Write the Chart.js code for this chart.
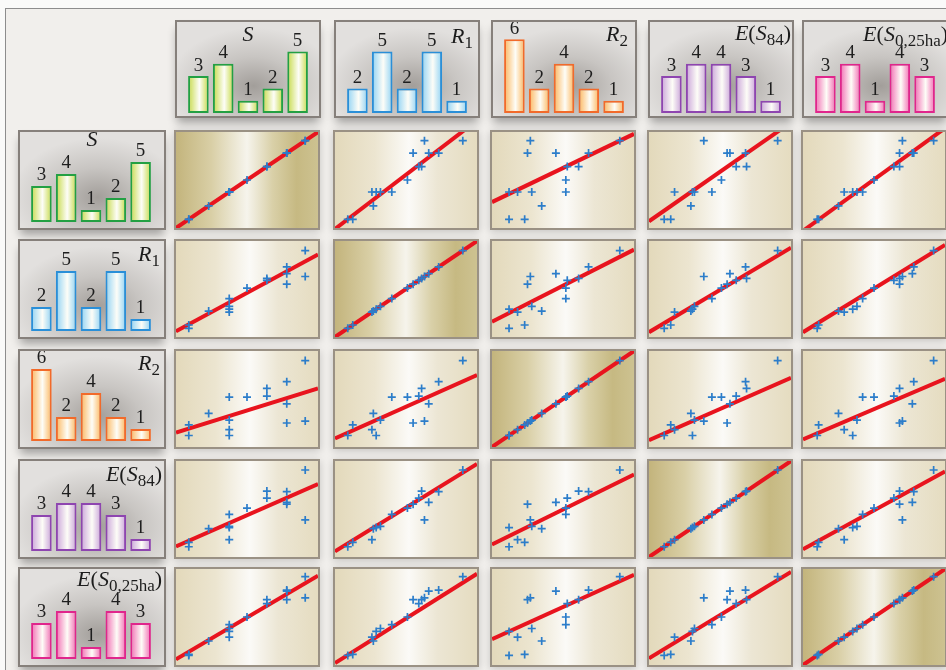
<!DOCTYPE html>
<html>
<head>
<meta charset="utf-8">
<script src="https://cdn.jsdelivr.net/npm/chart.js@4.4.0/dist/chart.umd.min.js"></script>
<style>
  body { margin: 0; width: 946px; height: 670px; overflow: hidden; position: relative; background: #fafaf9; font-family: "Liberation Serif", "DejaVu Serif", serif; }
  #frame { position: absolute; left: 5px; top: 8px; width: 960px; height: 680px; border-top: 1px solid #8d8d8d; border-left: 1px solid #8d8d8d; background: #f1efec; }
  .hist { position: absolute; box-sizing: border-box; border: 2px solid #86807b;
    background: radial-gradient(ellipse 60% 62% at 54% 68%, #a29e9a 0%, #c8c5c2 50%, #e2e0de 100%);
    box-shadow: 0 7px 9px -2px rgba(0,0,0,0.33); }
  .cell { position: absolute; box-sizing: border-box; border: 2px solid #9a9184; box-shadow: 0 2px 8px rgba(0,0,0,0.18); }
  .off { background: linear-gradient(90deg, #e3d9bb 0%, #ece5d0 28%, #fbfaf7 52%, #ece6d4 72%, #e5dcc0 100%); }
  .diag { background: linear-gradient(90deg, #c3b47c 0%, #d9cfa6 25%, #f6f4ec 50%, #d9d0a8 68%, #c6b982 85%, #cdc291 100%); }
  .title { position: absolute; font-size: 22px; line-height: 22px; color: #1c1c1c; white-space: nowrap; }
  .title sub { font-size: 17px; line-height: 0; vertical-align: -5px; font-style: normal; }
  canvas { position: absolute; left: 0; top: 0; }
</style>
</head>
<body>
<div id="frame"></div>
<script>
// observations (position on each variable's axis, 0..1)
const S    = [0.09, 0.09, 0.23, 0.375, 0.375, 0.375, 0.375, 0.50, 0.64, 0.64, 0.78, 0.78, 0.78, 0.91, 0.91];
const R1   = [0.09, 0.125, 0.27, 0.26, 0.29, 0.32, 0.40, 0.51, 0.59, 0.61, 0.55, 0.66, 0.73, 0.63, 0.90];
const R2   = [0.12, 0.23, 0.35, 0.18, 0.12, 0.28, 0.52, 0.52, 0.53, 0.61, 0.25, 0.45, 0.68, 0.27, 0.90];
const E84  = [0.107, 0.153, 0.295, 0.18, 0.306, 0.32, 0.443, 0.51, 0.614, 0.687, 0.55, 0.57, 0.68, 0.386, 0.906];
const E025 = [0.10, 0.11, 0.25, 0.29, 0.35, 0.38, 0.42, 0.50, 0.64, 0.68, 0.68, 0.77, 0.78, 0.70, 0.92];

// histogram counts
const binLabels = ['1', '2', '3', '4', '5'];
const histS    = [3, 4, 1, 2, 5];
const histR1   = [2, 5, 2, 5, 1];
const histR2   = [6, 2, 4, 2, 1];
const histE84  = [3, 4, 4, 3, 1];
const histE025 = [3, 4, 1, 4, 3];

// fitted line, y at left (x=0) and right (x=1) edge; rows = y variable, cols = x variable
const fitStart = [
  [0, -0.01, 0.27, 0.07, -0.03],
  [0.06, 0, 0.16, 0.05, 0.05],
  [0.15, 0.09, 0, 0.07, 0.08],
  [0.11, 0.06, 0.13, 0, 0.08],
  [0.06, 0.02, 0.27, 0.07, 0]
];
const fitEnd = [
  [1, 1.12, 0.98, 1.10, 1.04],
  [0.86, 1, 0.91, 0.93, 0.96],
  [0.61, 0.75, 1, 0.72, 0.71],
  [0.76, 0.97, 0.86, 1, 0.89],
  [0.93, 0.95, 0.94, 0.97, 1]
];

const vars = [S, R1, R2, E84, E025];
const hists = [histS, histR1, histR2, histE84, histE025];
const titles = [
  '<i>S</i>',
  '<i>R</i><sub>1</sub>',
  '<i>R</i><sub>2</sub>',
  '<i>E</i>(<i>S</i><sub>84</sub>)',
  '<i>E</i>(<i>S</i><sub>0,25ha</sub>)'
];
const barEdge   = ['#c6da48', '#8fd2f4', '#fcb65c', '#c9a2d9', '#f26ab2'];
const barBorder = ['#23a043', '#2a8fd8', '#f26a2a', '#8e45b0', '#e0268c'];

// layout
const colX = [174, 333, 490, 647, 801];
const rowY = [130, 239, 349, 459, 567];
const cellW = 146, cellH = 100;

// titles: [align, right pad, top]
const headTitle = [['center', 0, 23], ['right', 7, 25], ['right', 9, 23], ['right', 3, 22], ['right', 0, 23]];
const rowTitle  = [['center', 0, 128], ['right', 6, 243], ['right', 6, 352], ['right', 4, 463], ['right', 4, 568]];

const countLabels = {
  id: 'countLabels',
  afterDatasetsDraw(chart) {
    const ctx = chart.ctx;
    const meta = chart.getDatasetMeta(0);
    ctx.save();
    ctx.font = '19px "Liberation Serif", serif';
    ctx.fillStyle = '#1e1e1e';
    ctx.textAlign = 'center';
    ctx.textBaseline = 'bottom';
    meta.data.forEach((bar, i) => {
      ctx.fillText(String(chart.data.datasets[0].data[i]), bar.x, bar.y - 1);
    });
    ctx.restore();
  }
};

function barFill(edge) {
  return function (c) {
    const chart = c.chart;
    const xs = chart.scales.x;
    if (!xs || c.type !== 'data' || !chart.chartArea) return edge;
    const cx = xs.getPixelForValue(c.dataIndex);
    const half = xs.width / chart.data.labels.length * 0.83 / 2;
    if (!isFinite(cx) || !isFinite(half) || half <= 0) return edge;
    const g = chart.ctx.createLinearGradient(cx - half, 0, cx + half, 0);
    g.addColorStop(0, edge);
    g.addColorStop(0.55, '#fdfdf7');
    g.addColorStop(1, edge);
    return g;
  };
}

function addDiv(cls, x, y, w, h) {
  const d = document.createElement('div');
  d.className = cls;
  d.style.left = x + 'px'; d.style.top = y + 'px';
  d.style.width = w + 'px'; d.style.height = h + 'px';
  document.body.appendChild(d);
  return d;
}

function addCanvas(parent, w, h) {
  const c = document.createElement('canvas');
  c.width = w; c.height = h;
  c.style.width = w + 'px'; c.style.height = h + 'px';
  parent.appendChild(c);
  return c;
}

function addTitle(k, boxX, boxW, spec) {
  const t = document.createElement('div');
  t.className = 'title';
  t.innerHTML = titles[k];
  t.style.left = boxX + 'px';
  t.style.width = (boxW - spec[1]) + 'px';
  t.style.textAlign = spec[0];
  t.style.top = spec[2] + 'px';
  document.body.appendChild(t);
}

function histChart(k, x, y, w, h, bottomFromTop, unit) {
  const box = addDiv('hist', x, y, w, h);
  const cw = w - 4, ch = h - 4;
  const cv = addCanvas(box, cw, ch);
  const areaBottom = bottomFromTop - 2;
  const areaH = 6.5 * unit;
  const chart = new Chart(cv, {
    type: 'bar',
    data: {
      labels: binLabels,
      datasets: [{
        data: hists[k],
        backgroundColor: barFill(barEdge[k]),
        borderColor: barBorder[k],
        borderWidth: 2,
        borderSkipped: false,
        categoryPercentage: 1,
        barPercentage: 0.83
      }]
    },
    options: {
      responsive: false,
      animation: false,
      layout: { autoPadding: false, padding: { left: 9, right: cw - 9 - 124, top: areaBottom - areaH, bottom: ch - areaBottom } },
      plugins: { legend: { display: false }, tooltip: { enabled: false } },
      scales: {
        x: { display: false },
        y: { display: false, min: 0, max: 6.5 }
      }
    },
    plugins: [countLabels]
  });
  chart.update();
}

function scatterChart(r, c) {
  const cell = addDiv('cell ' + (r === c ? 'diag' : 'off'), colX[c], rowY[r], cellW, cellH);
  const cv = addCanvas(cell, cellW - 4, cellH - 4);
  const pts = vars[c].map((v, i) => ({ x: v, y: vars[r][i] }));
  new Chart(cv, {
    type: 'scatter',
    data: {
      datasets: [{
        data: pts,
        pointStyle: 'cross',
        pointRadius: 4,
        borderColor: '#2c7dca',
        borderWidth: 1.7,
        order: 0
      }, {
        type: 'line',
        data: [{ x: 0, y: fitStart[r][c] }, { x: 1, y: fitEnd[r][c] }],
        borderColor: '#e8141e',
        borderWidth: 4,
        pointRadius: 0,
        order: 1
      }]
    },
    options: {
      responsive: false,
      animation: false,
      layout: { autoPadding: false, padding: 0 },
      plugins: { legend: { display: false }, tooltip: { enabled: false } },
      scales: {
        x: { type: 'linear', display: false, min: 0, max: 1 },
        y: { type: 'linear', display: false, min: 0, max: 1 }
      }
    }
  });
}

for (let k = 0; k < 5; k++) {
  histChart(k, colX[k] + 1, 20, 146, 98, 93, 12.3);
  histChart(k, 18, rowY[k], 148, 100, 92, 12.0);
}
for (let r = 0; r < 5; r++) {
  for (let c = 0; c < 5; c++) scatterChart(r, c);
}
for (let k = 0; k < 5; k++) {
  addTitle(k, colX[k] + 1, 146, headTitle[k]);
  addTitle(k, 18, 148, rowTitle[k]);
}
</script>
</body>
</html>
